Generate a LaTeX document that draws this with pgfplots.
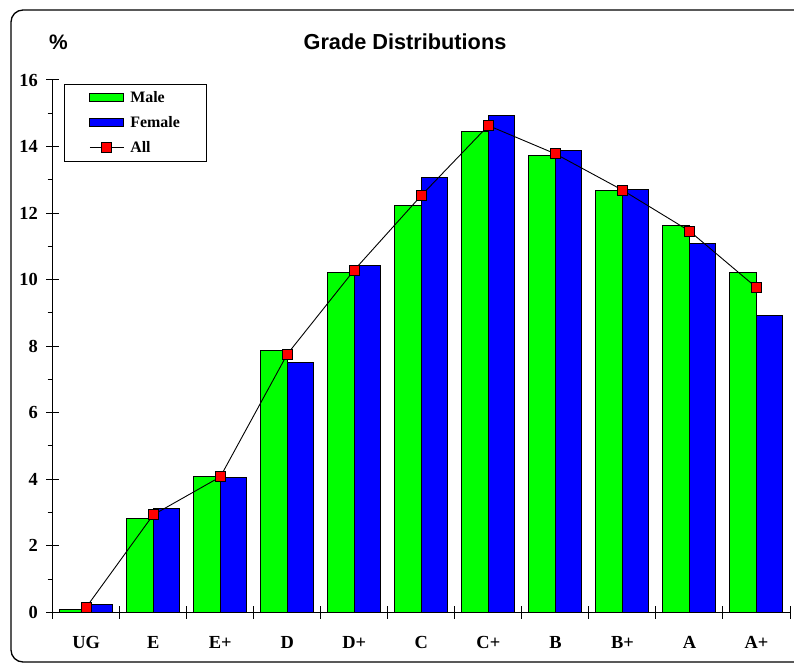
\documentclass[border=0pt]{standalone}
\usepackage{fontspec}
\setmainfont{Liberation Serif}
\newfontfamily\arialfont{Liberation Sans}
\usepackage{pgfplots}
\usepackage{pgfplotstable}
\pgfplotsset{compat=1.18}

\definecolor{mgreen}{RGB}{0,255,0}
\definecolor{mblue}{RGB}{0,0,255}
\definecolor{mred}{RGB}{255,0,0}

\pgfplotstableread{
x male female all
0 0.07 0.23 0.15
1 2.83 3.13 2.93
2 4.07 4.05 4.07
3 7.88 7.52 7.76
4 10.20 10.41 10.29
5 12.24 13.08 12.53
6 14.45 14.93 14.63
7 13.72 13.88 13.78
8 12.67 12.72 12.69
9 11.62 11.10 11.46
10 10.20 8.91 9.76
}\grades

\begin{document}
\begin{tikzpicture}
\path[use as bounding box] (0,0) rectangle (794bp,663bp);
\draw[line width=1.3bp, rounded corners=12bp] (11bp,1bp) rectangle (806bp,653bp);
\node[anchor=base, font=\arialfont\bfseries\fontsize{21.8}{21.8}\selectfont, inner sep=0pt] at (405bp,613.7bp) {Grade Distributions};
\node[anchor=base, font=\arialfont\bfseries\fontsize{21}{21}\selectfont, inner sep=0pt] at (58.5bp,613.7bp) {\%};
\begin{axis}[
  at={(52.7bp,50.7bp)}, anchor=south west,
  scale only axis, width=737.3bp, height=532.3bp,
  xmin=-0.5, xmax=10.5, ymin=0, ymax=16,
  axis lines*=left,
  axis line style={line width=1bp, black},
  every tick/.style={black, line width=1bp},
  tick align=center,
  major tick length=12.6bp,
  minor tick length=5bp,
  xtick={-0.5,0.5,1.5,2.5,3.5,4.5,5.5,6.5,7.5,8.5,9.5,10.5},
  xticklabels={UG,E,E+,D,D+,C,C+,B,B+,A,A+,{}},
  xticklabel style={xshift=33.5bp, anchor=base, yshift=-30bp},
  ytick={0,2,...,16},
  minor y tick num=1,
  minor y tick style={xshift=-2.5bp},
  yticklabel style={anchor=east, xshift=-5bp},
  ticklabel style={font=\fontsize{18.5}{18.5}\selectfont\bfseries},
  /pgf/number format/assume math mode=true,
  legend style={draw=black, line width=0.8bp,
    at={(axis description cs:0.0153,0.9925)}, anchor=north west,
    font=\fontsize{16}{16}\selectfont\bfseries,
    inner xsep=25bp, inner ysep=6bp, row sep=10bp,
    nodes={inner sep=2bp, text height=10.5bp, text depth=0.5bp},
    /tikz/every odd column/.append style={column sep=4bp},
    cells={anchor=west}},
  legend cell align=left,
]
\addplot[ybar, bar width=26.5bp, bar shift=-13.25bp, fill=mgreen, draw=black, line width=1bp,
  legend image code/.code={\draw[fill=mgreen, draw=black, line width=0.8bp] (0bp,-4bp) rectangle (34bp,4bp);}]
  table[x=x, y=male] {\grades};
\addlegendentry{Male}
\addplot[ybar, bar width=26.5bp, bar shift=13.25bp, fill=mblue, draw=black, line width=1bp,
  legend image code/.code={\draw[fill=mblue, draw=black, line width=0.8bp] (0bp,-4bp) rectangle (34bp,4bp);}]
  table[x=x, y=female] {\grades};
\addlegendentry{Female}
\addplot[black, line width=0.9bp, mark=square*, mark size=5bp,
  mark options={fill=mred, draw=black, line width=0.8bp},
  legend image code/.code={\draw[black, line width=0.9bp] (0bp,0bp) -- (34bp,0bp);
    \draw[fill=mred, draw=black, line width=0.8bp] (12bp,-5bp) rectangle (22bp,5bp);}]
  table[x=x, y=all] {\grades};
\addlegendentry{All}
\end{axis}
\end{tikzpicture}
\end{document}
